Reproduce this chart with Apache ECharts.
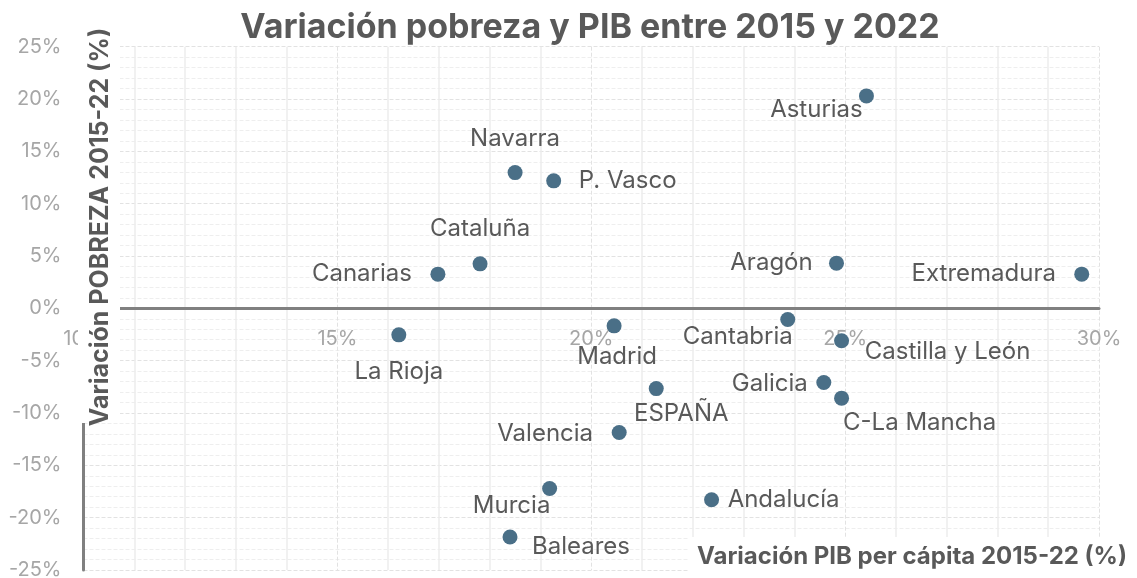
<!DOCTYPE html>
<html>
<head>
<meta charset="utf-8">
<script src="https://cdn.jsdelivr.net/npm/echarts@6/dist/echarts.min.js"></script>
<style>
  html, body { margin: 0; padding: 0; background: #fff; }
  #chart { width: 1137px; height: 578px; }
</style>
</head>
<body>
<div id="chart"></div>
<script>
// datos: variación PIB per cápita (x) y pobreza (y), en %
const regions = ['Asturias', 'Navarra', 'P. Vasco', 'Cataluña', 'Canarias', 'Aragón', 'Extremadura',
  'La Rioja', 'Madrid', 'Cantabria', 'Castilla y León', 'ESPAÑA', 'Galicia', 'C-La Mancha',
  'Valencia', 'Murcia', 'Andalucía', 'Baleares'];
const pibVar = [25.42, 18.50, 19.26, 17.81, 16.98, 24.83, 29.66,
  16.21, 20.45, 23.87, 24.93, 21.28, 24.58, 24.93,
  20.55, 19.18, 22.37, 18.40];
const pobrezaVar = [20.30, 12.97, 12.18, 4.25, 3.27, 4.32, 3.27,
  -2.53, -1.67, -1.06, -3.10, -7.67, -7.09, -8.58,
  -11.86, -17.21, -18.29, -21.85];
const xTicks = [10, 15, 20, 25, 30];
const yTicks = [-25, -20, -15, -10, -5, 0, 5, 10, 15, 20, 25];

// desplazamiento de cada etiqueta respecto al punto
const labelOffsets = [[-50, 14], [0, -34], [74, 0], [0, -35], [-76, 0], [-65, 0], [-98, 0],
  [0, 37], [3, 31], [-50, 17], [106, 11], [25, 25], [-54, 1], [78, 25],
  [-74, 1], [-38, 17], [72, 0], [71, 10]];

const FONT = 'Inter, "Open Sans", sans-serif';
const GRID_TOP = 46.7;
const GRID_BOTTOM = 8;
const PLOT_H = 578 - GRID_TOP - GRID_BOTTOM;
const chart = echarts.init(document.getElementById('chart'));

const points = regions.map((name, i) => ({
  name: name,
  value: [pibVar[i], pobrezaVar[i]],
  label: { offset: labelOffsets[i] }
}));

// el eje X se dibuja a la altura del 0 del eje Y
const yMin = yTicks[0];
const yMax = yTicks[yTicks.length - 1];
const zeroShift = -PLOT_H * (0 - yMin) / (yMax - yMin);

const option = {
  animation: false,
  backgroundColor: '#fff',
  textStyle: { fontFamily: FONT },
  title: {
    text: 'Variación pobreza y PIB entre 2015 y 2022',
    left: 585,
    top: 6,
    textAlign: 'center',
    textStyle: { fontFamily: FONT, fontSize: 34, fontWeight: 'bold', color: '#595959' }
  },
  grid: { left: 83.5, right: 38, top: GRID_TOP, bottom: GRID_BOTTOM, containLabel: false, outerBoundsMode: 'none' },
  xAxis: {
    type: 'value',
    min: xTicks[0],
    max: xTicks[xTicks.length - 1],
    interval: 5,
    position: 'bottom',
    offset: zeroShift,
    axisLine: { onZero: false, lineStyle: { color: '#808080', width: 3 } },
    axisTick: { show: false },
    axisLabel: { color: '#a6a6a6', fontSize: 20, margin: 21, formatter: '{value}%' },
    splitLine: { show: true, lineStyle: { color: '#e2e2e2', type: 'dashed' } },
    minorTick: { show: false, splitNumber: 5 },
    minorSplitLine: { show: true, lineStyle: { color: '#ededed', width: 1.5 } }
  },
  yAxis: {
    type: 'value',
    min: yMin,
    max: yMax,
    interval: 5,
    axisLine: { show: true, onZero: false, lineStyle: { color: '#808080', width: 3 } },
    axisTick: { show: false },
    axisLabel: { color: '#a6a6a6', fontSize: 20, margin: 22, formatter: '{value}%' },
    splitLine: { show: true, lineStyle: { color: '#e2e2e2', type: 'dashed' } },
    minorTick: { show: false, splitNumber: 5 },
    minorSplitLine: { show: true, lineStyle: { color: '#eeeeee', type: 'dashed' } }
  },
  series: [
    {
      type: 'scatter',
      data: points,
      symbolSize: 15,
      itemStyle: { color: '#4a6f87', opacity: 1 },
      label: {
        show: true,
        position: 'inside',
        formatter: '{b}',
        color: '#595959',
        fontSize: 24,
        fontFamily: FONT
      },
      z: 5
    }
  ],
  graphic: [
    { type: 'rect', z: 100, shape: { x: 78, y: 26, width: 42, height: 397 }, style: { fill: '#fff' } },
    {
      type: 'text',
      z: 101,
      x: 100,
      y: 227,
      rotation: Math.PI / 2,
      style: {
        text: 'Variación POBREZA 2015-22 (%)',
        fill: '#595959',
        font: 'bold 25px ' + FONT,
        textAlign: 'center',
        textVerticalAlign: 'middle'
      }
    },
    { type: 'rect', z: 100, shape: { x: 689, y: 537, width: 448, height: 41 }, style: { fill: '#fff' } },
    {
      type: 'text',
      z: 101,
      x: 912,
      y: 557,
      style: {
        text: 'Variación PIB per cápita 2015-22 (%)',
        fill: '#595959',
        font: 'bold 24px ' + FONT,
        textAlign: 'center',
        textVerticalAlign: 'middle'
      }
    }
  ]
};

chart.setOption(option);
</script>
</body>
</html>
